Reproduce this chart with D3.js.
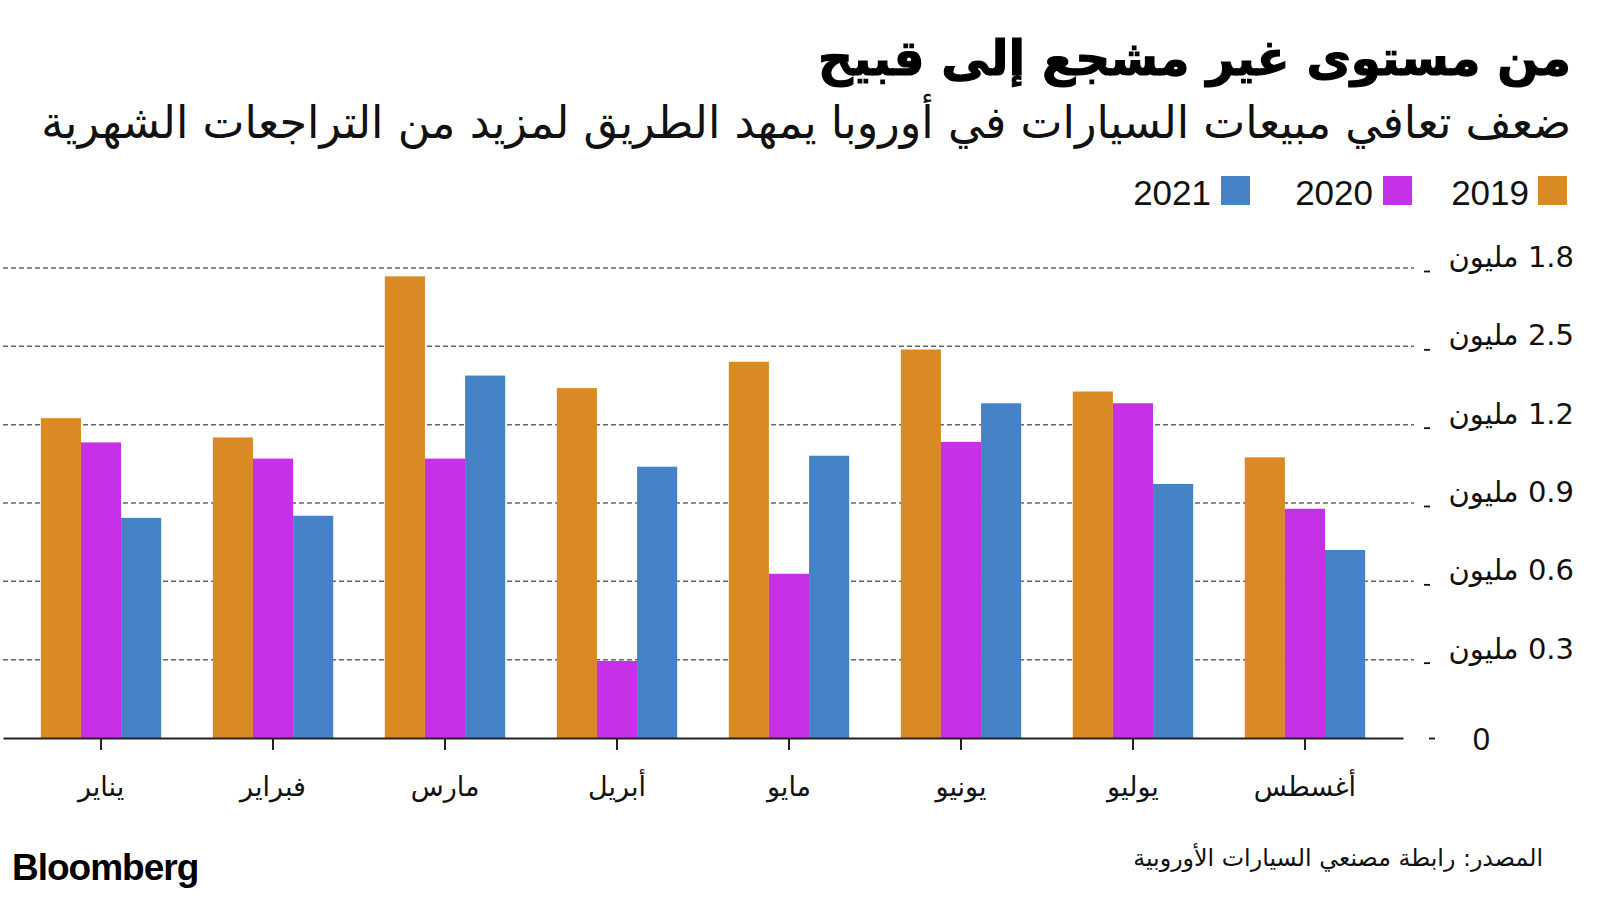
<!DOCTYPE html>
<html>
<head>
<meta charset="utf-8">
<script src="https://cdn.jsdelivr.net/npm/d3@7"></script>
<style>
  html, body { margin: 0; padding: 0; background: #ffffff; }
  svg { display: block; }
</style>
</head>
<body>
<svg id="chart" width="1600" height="900"></svg>
<script>
// ---- data ----
const months = ["يناير", "فبراير", "مارس", "أبريل", "مايو", "يونيو", "يوليو", "أغسطس"];
const seriesNames = ["2019", "2020", "2021"];
const values2019 = [1.225, 1.151, 1.768, 1.340, 1.441, 1.488, 1.327, 1.075];
const values2020 = [1.132, 1.070, 1.070, 0.295, 0.629, 1.134, 1.282, 0.878];
const values2021 = [0.843, 0.851, 1.388, 1.039, 1.081, 1.282, 0.973, 0.720];
const tickValues = [0, 0.3, 0.6, 0.9, 1.2, 1.5, 1.8];
const tickLabels = ["0", "0.3 مليون", "0.6 مليون", "0.9 مليون", "1.2 مليون", "2.5 مليون", "1.8 مليون"];
const titleText = "من مستوى غير مشجع إلى قبيح";
const subtitleText = "ضعف تعافي مبيعات السيارات في أوروبا يمهد الطريق لمزيد من التراجعات الشهرية";
const sourceText = "المصدر: رابطة مصنعي السيارات الأوروبية";
const colors = ["#DA8A25", "#C630E6", "#4583C6"];

const seriesValues = [values2019, values2020, values2021];
const table = months.map((m, i) => ({ month: m, vals: seriesValues.map((s, j) => ({ key: seriesNames[j], v: s[i], c: colors[j] })) }));

const arabicFont = "'DejaVu Sans', 'Noto Sans', sans-serif";
const latinFont = "'Liberation Sans', Arial, Helvetica, sans-serif";
const RLM = "\u200F";

const svg = d3.select("#chart");

// ---- scales ----
const x0 = d3.scaleBand().domain(months).range([3, 1403]).paddingInner(0.3).paddingOuter(0.22);
const x1 = d3.scaleBand().domain(seriesNames).range([0, x0.bandwidth()]).padding(0);
const y = d3.scaleLinear().domain([0, 1.8]).range([738, 268]);

// ---- gridlines ----
svg.append("g").selectAll("line").data(tickValues.filter(v => v > 0)).join("line")
  .attr("x1", 3).attr("x2", 1414)
  .attr("y1", d => y(d)).attr("y2", d => y(d))
  .attr("stroke", "#666").attr("stroke-width", 1.5).attr("stroke-dasharray", "5,3");

// ---- bars ----
const groups = svg.append("g").selectAll("g").data(table).join("g")
  .attr("transform", d => `translate(${x0(d.month)},0)`);
groups.selectAll("rect").data(d => d.vals).join("rect")
  .attr("x", d => x1(d.key))
  .attr("width", x1.bandwidth())
  .attr("y", d => y(d.v))
  .attr("height", d => y(0) - y(d.v))
  .attr("fill", d => d.c);

// ---- x axis ----
const xAxis = d3.axisBottom(x0).tickSize(12).tickSizeOuter(0).tickPadding(34);
const gx = svg.append("g").attr("transform", `translate(0,${y(0)})`).call(xAxis);
gx.select(".domain").attr("stroke", "#222").attr("stroke-width", 2.2);
gx.selectAll(".tick line").attr("stroke", "#222").attr("stroke-width", 2);
gx.selectAll(".tick text").attr("font-family", arabicFont).attr("font-size", 27).attr("fill", "#111").attr("dy", "0.45em");

// ---- y axis labels ----
const yAxis = d3.axisRight(y).tickValues(tickValues).tickSize(0).tickFormat((d, i) => i === 0 ? tickLabels[i] : RLM + tickLabels[i]);
const gy = svg.append("g").call(yAxis);
gy.select(".domain").remove();
gy.selectAll(".tick text")
  .attr("x", (d, i) => i === 0 ? 1490 : 1574)
  .attr("dy", (d, i) => i === 0 ? "0.36em" : "-0.05em")
  .attr("text-anchor", "end")
  .attr("font-family", (d, i) => i === 0 ? latinFont : arabicFont)
  .attr("font-size", (d, i) => i === 0 ? 31 : 29)
  .attr("fill", "#111");
gy.selectAll(".tick").append("line")
  .attr("x1", (d, i) => i === 0 ? 1429 : 1424)
  .attr("x2", (d, i) => i === 0 ? 1435 : 1430)
  .attr("y1", (d, i) => i === 0 ? 0 : 3)
  .attr("y2", (d, i) => i === 0 ? 0 : 3)
  .attr("stroke", "#111").attr("stroke-width", 1.8);

// ---- legend ----
const legendItems = [
  { name: "2019", c: colors[0], sq: 1538, tx: 1529 },
  { name: "2020", c: colors[1], sq: 1383, tx: 1373 },
  { name: "2021", c: colors[2], sq: 1221, tx: 1211 }
];
const lg = svg.append("g");
lg.selectAll("rect").data(legendItems).join("rect")
  .attr("x", d => d.sq).attr("y", 176).attr("width", 29).attr("height", 29).attr("fill", d => d.c);
lg.selectAll("text").data(legendItems).join("text")
  .attr("x", d => d.tx).attr("y", 205).attr("text-anchor", "end")
  .attr("font-family", latinFont).attr("font-size", 35).attr("fill", "#111")
  .text(d => d.name);

// ---- titles ----
function fitText(sel, width) {
  const len = sel.node().getComputedTextLength();
  const fs = parseFloat(sel.attr("font-size"));
  sel.attr("font-size", fs * width / len);
}
const title = svg.append("text").attr("x", 1571).attr("y", 75).attr("text-anchor", "end")
  .attr("font-family", arabicFont).attr("font-weight", "bold").attr("font-size", 44).attr("fill", "#000")
  .attr("stroke", "#000").attr("stroke-width", 1.2)
  .text(titleText);
fitText(title, 753);
const subtitle = svg.append("text").attr("x", 1571).attr("y", 138).attr("text-anchor", "end")
  .attr("font-family", arabicFont).attr("font-size", 36).attr("fill", "#111")
  .text(subtitleText);
fitText(subtitle, 1530);

// ---- footer ----
svg.append("text").attr("x", 12).attr("y", 880)
  .attr("font-family", latinFont).attr("font-weight", "bold").attr("font-size", 37)
  .attr("letter-spacing", -1).attr("fill", "#000").text("Bloomberg");
const src = svg.append("text").attr("x", 1543).attr("y", 866).attr("text-anchor", "end")
  .attr("font-family", arabicFont).attr("font-size", 24).attr("fill", "#111")
  .text(sourceText);
fitText(src, 410);
</script>
</body>
</html>
